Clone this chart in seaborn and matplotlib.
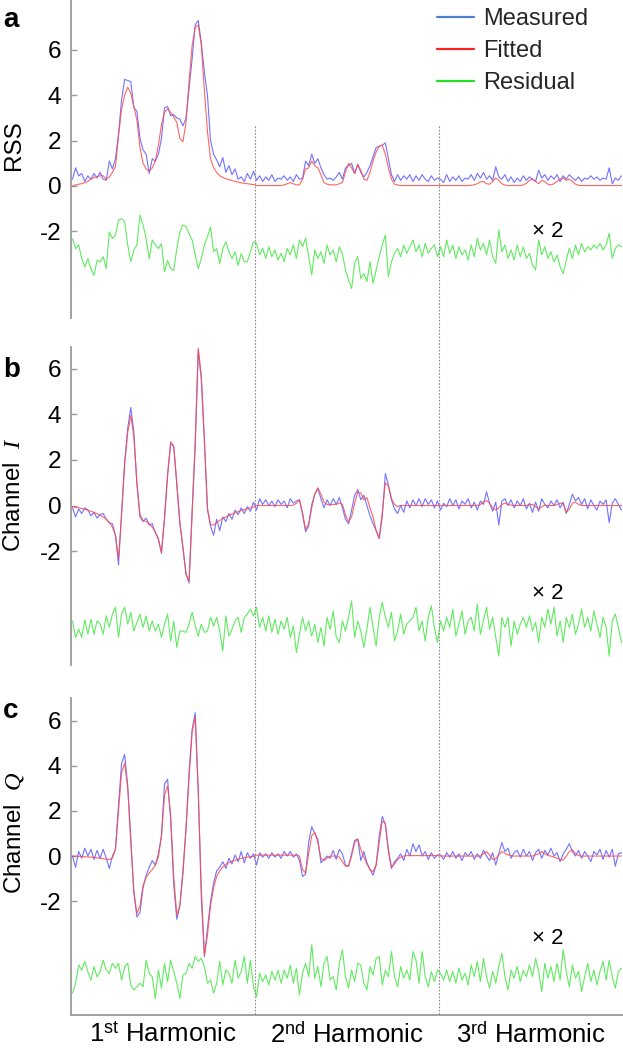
import numpy as np
import pandas as pd
import matplotlib
matplotlib.use("Agg")
import matplotlib.pyplot as plt
import matplotlib.transforms as mtransforms
from matplotlib.lines import Line2D
import seaborn as sns

sns.set_theme(style="white")
plt.rcParams["font.family"] = ["Liberation Sans", "DejaVu Sans"]
plt.rcParams["mathtext.fontset"] = "custom"
plt.rcParams["mathtext.rm"] = "Liberation Sans"
plt.rcParams["mathtext.it"] = "Liberation Serif:italic"
plt.rcParams["mathtext.bf"] = "Liberation Sans:bold"
plt.rcParams["axes.unicode_minus"] = False

# ---------------- data (60 samples per harmonic) ----------------
harmonic_labels = ["1$^{\\mathrm{st}}$ Harmonic", "2$^{\\mathrm{nd}}$ Harmonic", "3$^{\\mathrm{rd}}$ Harmonic"]
legend_labels = ["Measured", "Fitted", "Residual"]
residual_scale = 2

# Panel a: RSS
measured_a = [
    0.3, 0.8, 0.45, 0.55, 0.2, 0.45, 0.3, 0.55, 0.35, 0.6,
    0.3, 0.25, 1.1, 0.75, 1.2, 2.3, 3.8, 4.7, 4.65, 4.6,
    3.45, 3.3, 2.1, 1.6, 1.4, 0.55, 1.2, 1.1, 1.4, 2.1,
    3.45, 3.5, 3.1, 3.15, 3.0, 2.95, 2.65, 3.0, 4.3, 5.6,
    7.1, 7.3, 6.3, 5.0, 4.0, 2.0, 1.4, 1.15, 0.85, 1.25,
    0.6, 0.9, 0.5, 0.75, 0.3, 0.4, 0.2, 0.55, 0.3, 0.65,
    0.25, 0.45, 0.2, 0.4, 0.25, 0.5, 0.2, 0.35, 0.3, 0.45,
    0.25, 0.4, 0.2, 0.5, 0.3, 0.35, 1.1, 0.9, 1.4, 1.0,
    1.2, 0.8, 0.5, 0.3, 0.35, 0.25, 0.4, 0.6, 0.3, 0.8,
    0.9, 1.0, 0.55, 0.95, 0.6, 0.4, 0.6, 0.9, 1.3, 1.7,
    1.75, 1.8, 1.9, 1.2, 0.5, 0.2, 0.5, 0.25, 0.45, 0.3,
    0.5, 0.2, 0.45, 0.25, 0.5, 0.3, 0.2, 0.45, 0.25, 0.35,
    0.3, 0.15, 0.5, 0.2, 0.4, 0.25, 0.45, 0.2, 0.35, 0.3,
    0.5, 0.25, 0.55, 0.35, 0.6, 0.3, 0.45, 0.25, 0.85, 0.4,
    0.3, 0.5, 0.2, 0.4, 0.15, 0.35, 0.2, 0.45, 0.25, 0.4,
    0.3, 0.2, 0.7, 0.35, 0.5, 0.25, 0.45, 0.3, 0.5, 0.2,
    0.45, 0.3, 0.5, 0.35, 0.25, 0.4, 0.2, 0.35, 0.3, 0.45,
    0.3, 0.4, 0.25, 0.35, 0.3, 0.8, 0.1, 0.35, 0.25, 0.45,
]
fitted_a = [
    0.0, 0.05, 0.08, 0.1, 0.15, 0.2, 0.3, 0.38, 0.42, 0.45,
    0.45, 0.3, 0.4, 0.6, 0.85, 2.2, 3.4, 4.0, 4.35, 4.1,
    3.5, 2.9, 1.7, 1.0, 0.75, 0.65, 0.8, 1.1, 1.8, 2.7,
    3.25, 3.4, 3.25, 3.05, 2.8, 2.1, 1.95, 2.8, 4.6, 6.2,
    7.0, 7.1, 6.2, 4.2, 2.4, 1.2, 0.8, 0.6, 0.45, 0.38,
    0.32, 0.28, 0.24, 0.2, 0.17, 0.14, 0.12, 0.1, 0.08, 0.06,
    0.02, 0.02, 0.02, 0.02, 0.02, 0.02, 0.02, 0.02, 0.02, 0.05,
    0.1, 0.15, 0.1, 0.05, 0.05, 0.3, 0.75, 0.8, 1.1, 0.9,
    0.8, 0.5, 0.15, 0.08, 0.05, 0.05, 0.05, 0.1, 0.15, 0.6,
    1.0, 0.8, 0.55, 0.95, 0.7, 0.3, 0.25, 0.6, 1.1, 1.5,
    1.75, 1.8, 1.4, 0.8, 0.3, 0.08, 0.04, 0.02, 0.02, 0.02,
    0.02, 0.02, 0.02, 0.02, 0.02, 0.02, 0.02, 0.02, 0.02, 0.02,
    0.02, 0.02, 0.02, 0.02, 0.02, 0.02, 0.02, 0.02, 0.02, 0.02,
    0.03, 0.05, 0.1, 0.18, 0.2, 0.1, 0.08, 0.2, 0.35, 0.25,
    0.1, 0.04, 0.02, 0.02, 0.03, 0.02, 0.02, 0.05, 0.12, 0.25,
    0.3, 0.2, 0.1, 0.25, 0.2, 0.08, 0.05, 0.1, 0.2, 0.3,
    0.35, 0.25, 0.3, 0.2, 0.08, 0.03, 0.02, 0.02, 0.02, 0.02,
    0.02, 0.02, 0.02, 0.02, 0.02, 0.02, 0.02, 0.02, 0.02, 0.02,
]
residual_a = [
    0.24, 0.02, 0.10, -0.20, -0.38, -0.20, -0.42, -0.57, -0.24, -0.27,
    -0.16, -0.42, 0.39, 0.24, 0.32, 0.65, 0.68, 0.61, 0.10, -0.27,
    -0.01, 0.10, 0.76, 0.54, 0.24, -0.20, 0.21, 0.10, 0.02, 0.13,
    -0.49, -0.24, -0.42, -0.46, 0.02, 0.39, 0.54, 0.50, 0.35, 0.21,
    -0.12, -0.42, -0.20, 0.10, 0.28, 0.50, -0.05, 0.02, -0.31, 0.02,
    0.17, -0.05, -0.20, -0.05, -0.35, -0.09, -0.27, -0.27, -0.05, 0.17,
    0.135, -0.12, 0.025, -0.195, 0.06, -0.16, -0.01, -0.23, -0.085, -0.27,
    0.025, -0.12, 0.10, -0.195, 0.21, 0.06, 0.25, -0.16, -0.56, -0.01,
    -0.195, -0.05, -0.305, 0.10, -0.12, -0.01, -0.27, 0.06, -0.085, -0.45,
    -0.67, -0.86, -0.305, -0.16, -0.64, -0.53, -0.71, -0.27, -0.75, -0.45,
    -0.16, 0.10, 0.32, -0.60, -0.27, -0.085, 0.025, -0.16, 0.10, -0.085,
    0.06, 0.21, -0.05, 0.10, -0.16, 0.135, -0.085, 0.025, 0.10, -0.16,
    0.06, -0.16, 0.21, -0.085, 0.10, -0.195, 0.06, -0.12, -0.01, -0.23,
    0.10, -0.16, 0.25, -0.01, 0.135, -0.12, 0.21, -0.16, -0.305, 0.43,
    -0.05, 0.10, -0.195, -0.01, -0.23, 0.10, -0.16, 0.06, -0.195, -0.085,
    -0.34, -0.45, 0.21, -0.12, 0.06, -0.195, -0.05, -0.27, -0.12, -0.38,
    -0.53, -0.23, 0.025, -0.195, 0.10, -0.12, 0.135, -0.05, 0.06, -0.01,
    0.10, 0.025, 0.135, -0.01, 0.10, 0.36, -0.195, 0.025, 0.10, 0.06,
]

# Panel b: Channel I
measured_b = [
    -0.1, -0.5, -0.15, -0.35, -0.1, -0.2, -0.45, -0.3, -0.55, -0.4,
    -0.35, -0.6, -0.75, -0.8, -1.3, -2.6, -0.3, 1.9, 3.4, 4.3,
    3.2, 0.9, -0.5, -0.7, -0.55, -0.85, -0.8, -1.2, -1.45, -2.1,
    -0.5, 1.4, 2.7, 2.6, 0.9, -0.8, -1.8, -3.0, -3.4, -0.2,
    2.6, 6.8, 5.5, 2.8, -0.2, -0.9, -1.3, -0.6, -1.1, -0.5,
    -0.7, -0.35, -0.6, -0.2, -0.4, -0.1, -0.35, -0.05, -0.25, 0.15,
    -0.2, 0.3, 0.05, 0.25, 0.0, 0.2, -0.05, 0.25, 0.05, 0.2,
    -0.1, 0.3, 0.1, 0.2, 0.25, -0.4, -1.15, -0.9, 0.05, 0.5,
    0.75, 0.3, -0.1, 0.25, 0.0, 0.3, 0.05, 0.35, -0.1, -0.6,
    -0.8, -0.2, 0.45, 0.7, 0.25, 0.45, 0.0, -0.45, -0.8, -1.1,
    -1.45, -0.5, 1.4, 0.9, 0.25, -0.15, -0.35, 0.0, -0.3, 0.2,
    -0.1, 0.25, 0.0, 0.3, -0.05, 0.3, 0.05, 0.25, -0.1, 0.2,
    -0.2, 0.1, -0.05, 0.3, 0.0, 0.25, -0.15, 0.2, 0.05, 0.3,
    -0.1, 0.15, -0.2, 0.2, 0.05, 0.6, 0.1, -0.25, 0.15, -0.85,
    0.2, 0.3, 0.0, 0.25, -0.1, 0.2, 0.0, 0.3, -0.15, 0.1,
    -0.3, 0.15, -0.25, 0.3, 0.05, -0.1, 0.2, 0.0, 0.25, -0.1,
    0.15, -0.35, 0.05, 0.5, 0.2, 0.35, 0.05, 0.3, -0.15, 0.25,
    0.0, -0.2, 0.2, 0.05, 0.25, -0.75, 0.1, 0.3, 0.05, -0.2,
]
fitted_b = [
    -0.05, -0.08, -0.1, -0.13, -0.16, -0.2, -0.25, -0.3, -0.36, -0.43,
    -0.5, -0.6, -0.75, -0.95, -1.3, -2.3, -0.4, 1.8, 3.2, 3.95,
    3.0, 1.0, -0.4, -0.65, -0.7, -0.8, -0.95, -1.15, -1.5, -2.05,
    -0.6, 1.3, 2.8, 2.6, 1.0, -0.7, -1.9, -3.0, -3.3, -0.4,
    2.8, 6.9, 5.7, 2.9, -0.1, -0.85, -0.85, -0.75, -0.65, -0.57,
    -0.5, -0.43, -0.37, -0.32, -0.27, -0.22, -0.18, -0.14, -0.1, -0.07,
    0.0, 0.0, 0.0, 0.0, 0.0, 0.0, 0.0, 0.0, 0.0, 0.0,
    0.0, 0.0, 0.02, 0.1, 0.25, -0.3, -1.05, -0.8, -0.1, 0.5,
    0.78, 0.5, 0.15, 0.05, 0.03, 0.05, 0.05, 0.12, 0.05, -0.4,
    -0.72, -0.5, 0.1, 0.6, 0.55, 0.25, 0.35, -0.1, -0.5, -1.1,
    -1.42, -0.3, 1.0, 0.85, 0.3, 0.05, -0.05, 0.0, 0.0, 0.0,
    0.0, 0.0, 0.0, 0.0, 0.0, 0.0, 0.0, 0.0, 0.0, 0.0,
    0.0, 0.0, 0.0, 0.0, 0.0, 0.0, 0.0, 0.0, 0.0, 0.0,
    0.0, 0.0, 0.0, 0.05, 0.15, 0.22, 0.1, -0.1, -0.19, -0.1,
    0.05, 0.1, 0.05, 0.02, 0.0, 0.0, 0.0, 0.0, 0.0, 0.05,
    0.05, -0.05, -0.15, -0.05, 0.02, 0.0, 0.0, 0.0, 0.05, 0.1,
    0.08, -0.3, -0.15, 0.1, 0.15, 0.05, 0.0, 0.0, 0.0, 0.0,
    0.0, 0.0, 0.0, 0.0, 0.0, 0.0, 0.0, 0.0, 0.0, 0.0,
]
residual_b = [
    0.07, -0.29, -0.11, -0.29, 0.09, -0.22, 0.11, -0.22, 0.07, 0.0,
    -0.22, 0.18, -0.07, 0.22, 0.37, -0.29, 0.22, 0.37, 0.0, 0.26,
    -0.15, 0.04, 0.22, -0.07, 0.18, -0.15, 0.07, -0.15, 0.0, -0.29,
    0.0, 0.22, -0.37, 0.07, -0.51, -0.15, -0.15, -0.18, 0.0, 0.26,
    -0.04, -0.26, 0.0, -0.18, -0.15, 0.15, -0.04, 0.15, -0.15, -0.59,
    0.18, -0.26, -0.11, 0.07, 0.15, -0.18, 0.15, 0.22, 0.33, 0.18,
    0.37, -0.07, 0.15, -0.15, 0.18, -0.18, 0.11, -0.22, 0.07, -0.11,
    0.15, -0.29, -0.04, -0.62, -0.22, 0.15, -0.15, 0.07, -0.26, 0.0,
    -0.40, -0.07, -0.48, 0.15, -0.11, 0.29, -0.29, -0.40, 0.07, -0.15,
    0.15, 0.51, -0.29, 0.07, -0.15, -0.51, -0.11, 0.37, -0.07, -0.48,
    0.15, 0.48, 0.15, -0.07, 0.26, -0.37, -0.15, 0.22, -0.22, 0.0,
    0.07, 0.15, 0.37, -0.15, 0.07, -0.37, 0.15, 0.40, -0.07, -0.40,
    0.07, -0.15, 0.15, -0.07, 0.33, -0.26, 0.0, 0.29, -0.22, 0.07,
    0.15, -0.15, 0.44, -0.22, 0.07, 0.37, -0.11, 0.15, -0.29, -0.70,
    0.15, -0.07, 0.15, -0.48, 0.07, -0.22, 0.0, 0.15, -0.07, 0.18,
    -0.15, 0.04, -0.40, 0.15, -0.07, 0.33, 0.0, 0.37, -0.26, 0.07,
    -0.40, 0.15, -0.07, 0.22, -0.22, 0.0, 0.33, -0.07, 0.15, -0.15,
    0.29, 0.0, -0.29, 0.15, -0.07, -0.70, 0.07, 0.22, -0.07, -0.40,
]

# Panel c: Channel Q
measured_c = [
    0.0, -0.5, 0.2, -0.1, 0.35, 0.0, 0.3, -0.15, 0.25, -0.1,
    0.3, -0.1, -0.55, 0.0, 0.3, 2.3, 4.1, 4.5, 3.1, 0.8,
    -1.6, -2.7, -2.5, -1.4, -0.85, -0.5, -0.2, -0.4, 0.1, 0.9,
    3.2, 3.4, 1.6, -1.3, -2.8, -2.2, -0.8, 1.2, 3.7, 5.6,
    6.35, 2.8, -1.9, -4.45, -3.2, -2.0, -1.2, -0.65, -0.5, -0.25,
    -0.55, -0.1, -0.35, 0.05, -0.25, 0.2, -0.3, 0.15, -0.1, 0.1,
    -0.4, 0.15, -0.05, 0.1, -0.1, 0.15, -0.05, 0.1, -0.1, 0.2,
    0.0, 0.2, -0.05, 0.1, -0.2, -0.9, -0.8, 0.6, 1.3, 1.0,
    0.75, -0.3, -0.15, 0.0, -0.1, 0.25, -0.15, 0.3, 0.1, -0.4,
    -0.45, 0.1, 0.7, 0.75, -0.2, 0.2, -0.3, -0.6, -0.85, -0.4,
    0.9, 1.75, 1.4, 0.2, -0.55, -0.25, -0.1, 0.1, -0.2, 0.3,
    0.0, 0.55, 0.2, 0.5, 0.0, 0.2, -0.15, 0.15, -0.1, 0.05,
    0.05, -0.15, 0.15, -0.05, 0.2, -0.1, 0.1, -0.2, 0.15, 0.0,
    0.2, -0.15, 0.1, -0.1, 0.25, 0.0, -0.2, 0.15, -0.4, 0.1,
    0.6, 0.2, 0.35, -0.1, 0.15, 0.25, -0.05, 0.3, 0.0, 0.2,
    -0.2, 0.15, 0.3, -0.1, 0.25, 0.05, 0.35, 0.0, 0.15, -0.25,
    0.1, 0.3, 0.55, 0.2, 0.0, 0.25, -0.1, 0.2, 0.0, -0.25,
    0.2, 0.05, 0.3, -0.15, 0.25, -0.05, 0.3, -0.45, 0.1, 0.15,
]
fitted_c = [
    0.0, 0.0, -0.01, -0.02, -0.03, -0.04, -0.05, -0.06, -0.08, -0.1,
    -0.12, -0.14, -0.15, -0.1, 0.3, 2.0, 3.7, 4.1, 3.0, 0.6,
    -1.6, -2.55, -2.2, -1.3, -0.95, -0.75, -0.6, -0.4, -0.05, 0.9,
    2.7, 3.1, 1.8, -0.9, -2.6, -2.2, -0.6, 1.2, 3.5, 5.5,
    6.15, 2.9, -1.4, -4.4, -3.5, -2.2, -1.4, -0.9, -0.65, -0.48,
    -0.37, -0.29, -0.23, -0.18, -0.14, -0.1, -0.07, -0.05, -0.03, -0.02,
    0.04, 0.04, 0.04, 0.04, 0.04, 0.04, 0.04, 0.04, 0.04, 0.04,
    0.04, 0.04, 0.04, 0.04, 0.0, -0.6, -0.75, 0.1, 0.9, 1.05,
    0.6, -0.1, -0.2, -0.1, 0.0, 0.0, 0.0, -0.05, -0.25, -0.45,
    -0.45, 0.0, 0.6, 0.75, 0.3, -0.05, -0.35, -0.6, -0.7, -0.4,
    0.6, 1.55, 1.45, 0.3, -0.5, -0.35, -0.15, -0.05, 0.0, 0.02,
    0.02, 0.02, 0.02, 0.02, 0.02, 0.02, 0.02, 0.02, 0.02, 0.02,
    0.0, 0.0, 0.0, 0.0, 0.0, 0.0, 0.0, 0.0, 0.0, 0.0,
    0.0, 0.0, 0.0, 0.0, 0.1, 0.2, 0.05, -0.15, -0.12, 0.05,
    0.2, 0.12, 0.05, 0.02, 0.0, 0.0, 0.0, 0.0, 0.0, 0.0,
    0.0, 0.05, 0.1, 0.2, 0.1, 0.02, 0.0, -0.05, -0.1, -0.15,
    -0.18, 0.0, 0.2, 0.27, 0.1, 0.02, 0.0, 0.0, 0.0, 0.0,
    0.0, 0.0, 0.0, 0.0, 0.0, 0.0, 0.0, 0.0, 0.0, 0.0,
]
residual_c = [
    -0.36, -0.14, 0.26, 0.15, 0.34, 0.115, -0.07, 0.225, 0.0, 0.115,
    0.37, 0.15, 0.08, 0.30, 0.19, 0.30, -0.07, 0.225, 0.30, -0.18,
    -0.29, -0.22, -0.14, -0.22, 0.37, 0.08, 0.0, -0.48, 0.15, -0.25,
    0.30, -0.11, 0.37, 0.115, -0.14, -0.48, 0.04, 0.08, 0.30, 0.19,
    0.45, 0.34, 0.41, 0.225, -0.14, -0.07, -0.36, -0.14, 0.34, -0.18,
    0.15, 0.08, -0.14, 0.37, -0.03, 0.115, 0.45, -0.14, 0.37, -0.22,
    -0.44, 0.08, -0.105, 0.04, -0.18, 0.12, -0.07, 0.15, -0.14, 0.15,
    -0.03, 0.26, -0.14, 0.19, -0.40, 0.08, 0.30, 0.005, 0.71, -0.03,
    0.23, -0.22, 0.30, 0.45, -0.07, 0.005, -0.29, 0.30, 0.60, 0.005,
    -0.25, 0.15, -0.105, 0.30, 0.26, -0.14, -0.29, 0.23, 0.04, 0.41,
    0.45, -0.18, 0.15, 0.005, 0.56, 0.005, -0.22, 0.23, -0.03, 0.15,
    -0.07, 0.56, 0.37, -0.14, 0.56, 0.005, -0.22, 0.12, -0.105, 0.15,
    0.08, -0.07, 0.15, -0.105, 0.12, -0.14, 0.19, -0.07, 0.08, -0.18,
    0.26, 0.005, 0.34, -0.105, 0.41, 0.005, -0.25, 0.12, -0.14, 0.23,
    0.52, 0.005, -0.29, 0.15, -0.03, 0.23, -0.105, 0.15, 0.005, 0.26,
    0.005, 0.41, 0.12, -0.33, 0.30, -0.03, 0.23, -0.105, 0.30, -0.07,
    0.60, 0.12, -0.22, 0.26, -0.03, 0.12, -0.33, 0.005, 0.30, -0.105,
    0.15, -0.18, 0.12, 0.34, -0.07, 0.37, 0.005, -0.25, 0.12, 0.19,
]

# ---------------- figure ----------------
W, H = 623, 1050
fig = plt.figure(figsize=(W / 100, H / 100), dpi=100)

def rect(top, bottom):
    return [71 / W, 1 - bottom / H, 552 / W, (bottom - top) / H]

panels = [
    dict(m=measured_a, f=fitted_a, r=residual_a, off=-2.8, ylim=(-5.82, 8.2),
         rect=rect(0, 318), ylabel="RSS", lab=(-0.103, 0.544), letter="a", ly=27, x2y=-2.0),
    dict(m=measured_b, f=fitted_b, r=residual_b, off=-5.2, ylim=(-6.99, 6.95),
         rect=rect(347, 665), ylabel="Channel  $I$", lab=(-0.103, 0.535), letter="b", ly=377, x2y=-3.87),
    dict(m=measured_c, f=fitted_c, r=residual_c, off=-5.35, ylim=(-7.04, 7.0),
         rect=rect(698, 1015), ylabel="Channel  $Q$", lab=(-0.103, 0.574), letter="c", ly=718, x2y=-3.63),
]

c_meas = "#5a5aff"
c_fit = "#ff4a4a"
c_res = "#4fe84f"
spine_col = "#9a9a9a"

axes = []
for k, p in enumerate(panels):
    ax = fig.add_axes(p["rect"])
    axes.append(ax)
    n = len(p["m"])
    x = np.arange(n)
    df = pd.DataFrame({
        "x": x,
        "Measured": p["m"],
        "Fitted": p["f"],
        "Residual": p["off"] + residual_scale * np.asarray(p["r"]),
    })
    sns.lineplot(data=df, x="x", y="Residual", ax=ax, color=c_res, lw=0.8, alpha=0.9)
    sns.lineplot(data=df, x="x", y="Measured", ax=ax, color=c_meas, lw=0.8, alpha=0.85)
    sns.lineplot(data=df, x="x", y="Fitted", ax=ax, color=c_fit, lw=0.8, alpha=0.85)
    ax.set_xlim(-0.5, n - 0.5)
    ax.set_ylim(*p["ylim"])
    ax.set_yticks([-2, 0, 2, 4, 6])
    ax.set_yticklabels(["-2", "0", "2", "4", "6"])
    ax.tick_params(axis="y", left=True, direction="in", length=4, width=1,
                   color=spine_col, labelsize=17.5, pad=7, labelcolor="black")
    for s in ["top", "right"]:
        ax.spines[s].set_visible(False)
    ax.spines["left"].set_color(spine_col)
    ax.spines["left"].set_linewidth(1.3)
    if k < 2:
        ax.spines["bottom"].set_visible(False)
        ax.set_xticks([])
    else:
        ax.spines["bottom"].set_color(spine_col)
        ax.spines["bottom"].set_linewidth(1.3)
        ax.set_xticks([29.5, 89.5, 149.5])
        ax.set_xticklabels(harmonic_labels)
        ax.tick_params(axis="x", bottom=False, length=0, labelsize=18.5, pad=5, labelcolor="black")
    ax.set_xlabel("")
    ax.set_ylabel(p["ylabel"], fontsize=17.5, va="center", color="black")
    ax.yaxis.set_label_coords(*p["lab"])
    ax.text(155, p["x2y"], "\u00d7 2", fontsize=16, ha="center", va="center", color="black")
    fig.text(3 / W, 1 - p["ly"] / H, p["letter"], fontsize=20, fontweight="bold",
             ha="left", va="baseline", color="black")

# harmonic boundaries (dotted)
trans = mtransforms.blended_transform_factory(axes[2].transData, fig.transFigure)
for xb in [59.5, 119.5]:
    fig.add_artist(Line2D([xb, xb], [1 - 126 / H, 1 - 1015 / H], transform=trans,
                          color="#8a8a8a", lw=0.8, ls=(0, (1.5, 1.5))))

handles = [Line2D([], [], color=c, lw=1.6) for c in ["#4f7fd0", "#ff2020", "#22e022"]]
fig.legend(handles, legend_labels, loc="upper left", bbox_to_anchor=(437 / W, 1 - 8 / H),
           bbox_transform=fig.transFigure, frameon=False, fontsize=17,
           handlelength=1.55, handletextpad=0.42, labelspacing=0.42,
           borderpad=0, borderaxespad=0)

fig.savefig("out.png", dpi=100)
